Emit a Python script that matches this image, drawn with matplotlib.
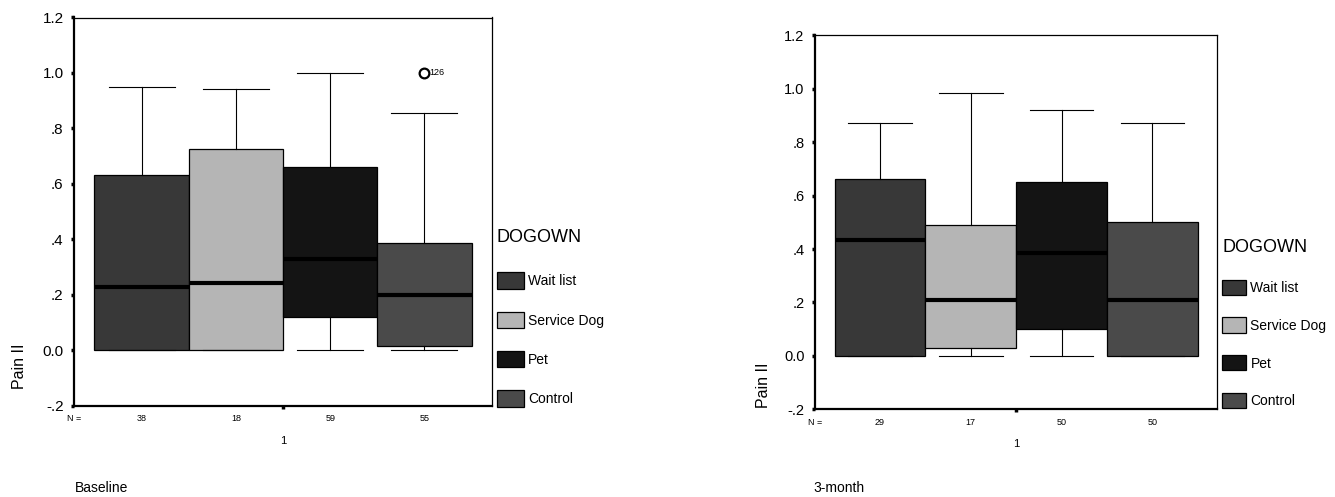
import matplotlib
matplotlib.use("Agg")
import matplotlib.pyplot as plt
from matplotlib.patches import Patch
from matplotlib.transforms import blended_transform_factory

plt.rcParams['font.family'] = ['Liberation Sans', 'DejaVu Sans']

groups = ["Wait list", "Service Dog", "Pet", "Control"]
colors = ["#383838", "#b5b5b5", "#141414", "#4a4a4a"]

# Baseline
base_q1 = [0.0, 0.0, 0.12, 0.014]
base_med = [0.228, 0.242, 0.330, 0.199]
base_q3 = [0.632, 0.727, 0.659, 0.387]
base_whislo = [0.0, 0.0, 0.0, 0.0]
base_whishi = [0.950, 0.941, 1.0, 0.857]
base_fliers = [[], [], [], [1.0]]
base_flier_labels = [[], [], [], ["126"]]
base_n = [38, 18, 59, 55]

# 3-month
m3_q1 = [0.0, 0.030, 0.101, 0.0]
m3_med = [0.433, 0.208, 0.384, 0.208]
m3_q3 = [0.661, 0.490, 0.651, 0.502]
m3_whislo = [0.0, 0.0, 0.0, 0.0]
m3_whishi = [0.870, 0.983, 0.920, 0.870]
m3_fliers = [[], [], [], []]
m3_flier_labels = [[], [], [], []]
m3_n = [29, 17, 50, 50]

yticks = [-0.2, 0.0, 0.2, 0.4, 0.6, 0.8, 1.0, 1.2]
yticklabels = ["-.2", "0.0", ".2", ".4", ".6", ".8", "1.0", "1.2"]

W, H = 1335, 497
fig = plt.figure(figsize=(W / 100, H / 100), dpi=100)


def fr(x0, top, x1, bottom):
    return [x0 / W, 1 - bottom / H, (x1 - x0) / W, (bottom - top) / H]


def panel(rect, q1, med, q3, wlo, whi, fliers, flabels, ns, title, tfs, title_xy,
          ylab_xy, leg_anchor, leg_fs, leg_title_fs, hl, hh, lsp, sep):
    ax = fig.add_axes(rect)
    stats = []
    for i in range(4):
        stats.append(dict(med=med[i], q1=q1[i], q3=q3[i], whislo=wlo[i],
                          whishi=whi[i], fliers=fliers[i], label=groups[i]))
    pos = [1, 2, 3, 4]
    bp = ax.bxp(stats, positions=pos, widths=1.0, patch_artist=True,
                capwidths=0.7, manage_ticks=False,
                boxprops=dict(edgecolor="black", linewidth=0.9),
                whiskerprops=dict(color="black", linewidth=0.8),
                capprops=dict(color="black", linewidth=0.8),
                medianprops=dict(color="black", linewidth=3.0, solid_capstyle="butt"),
                flierprops=dict(marker="o", markerfacecolor="none",
                                markeredgecolor="black", markersize=7,
                                markeredgewidth=1.6))
    for patch, c in zip(bp["boxes"], colors):
        patch.set_facecolor(c)
    for i in range(4):
        for v, lab in zip(fliers[i], flabels[i]):
            ax.annotate(lab, (pos[i], v), xytext=(3.5, 0), textcoords="offset points",
                        fontsize=6.5, va="center", ha="left")
    ax.set_xlim(2.5 - 2.216, 2.5 + 2.216)
    ax.set_ylim(-0.2, 1.2)
    ax.set_yticks(yticks)
    ax.set_yticklabels(yticklabels, fontsize=tfs)
    ax.set_xticks([2.5])
    ax.set_xticklabels([""])
    ax.tick_params(axis="y", direction="out", length=2.5, width=2.5, pad=5)
    ax.tick_params(axis="x", direction="out", length=2.5, width=2.5)
    for s in ["left", "bottom"]:
        ax.spines[s].set_linewidth(1.6)
    for s in ["top", "right"]:
        ax.spines[s].set_linewidth(0.9)
    tr = blended_transform_factory(ax.transData, ax.transAxes)
    n_y = -0.034
    ax.text(ax.get_xlim()[0], n_y, "N =", transform=tr, ha="center", va="center", fontsize=6.5)
    for i in range(4):
        ax.text(pos[i], n_y, str(ns[i]), transform=tr, ha="center", va="center", fontsize=6.5)
    ax.text(2.5, -0.092, "1", transform=tr, ha="center", va="center", fontsize=8)
    fig.text(ylab_xy[0] / W, 1 - ylab_xy[1] / H, "Pain II", rotation=90,
             ha="center", va="center", fontsize=11.5)
    fig.text(title_xy[0] / W, 1 - title_xy[1] / H, title, ha="left", va="center",
             fontsize=10)
    handles = [Patch(facecolor=c, edgecolor="black", linewidth=0.9) for c in colors]
    leg = ax.legend(handles, groups, title="DOGOWN", loc="upper left",
                    bbox_to_anchor=(leg_anchor[0] / W, 1 - leg_anchor[1] / H),
                    bbox_transform=fig.transFigure, frameon=False, fontsize=leg_fs,
                    title_fontsize=leg_title_fs, alignment="left", borderpad=0,
                    borderaxespad=0, handlelength=hl, handleheight=hh,
                    handletextpad=0.3, labelspacing=lsp)
    leg._legend_box.sep = sep
    return ax


panel(fr(74, 17.5, 492, 405.5), base_q1, base_med, base_q3, base_whislo, base_whishi,
      base_fliers, base_flier_labels, base_n, "Baseline", 11, (75, 488), (20, 366),
      (497, 229), 10, 13, 1.95, 1.45, 1.64, 19)
panel(fr(815, 35.3, 1217.3, 409.3), m3_q1, m3_med, m3_q3, m3_whislo, m3_whishi,
      m3_fliers, m3_flier_labels, m3_n, "3-month", 10.5, (813, 488), (764, 385),
      (1222, 239), 10, 13, 1.75, 1.3, 1.63, 17)

fig.savefig("out.png", dpi=100, facecolor="white")
